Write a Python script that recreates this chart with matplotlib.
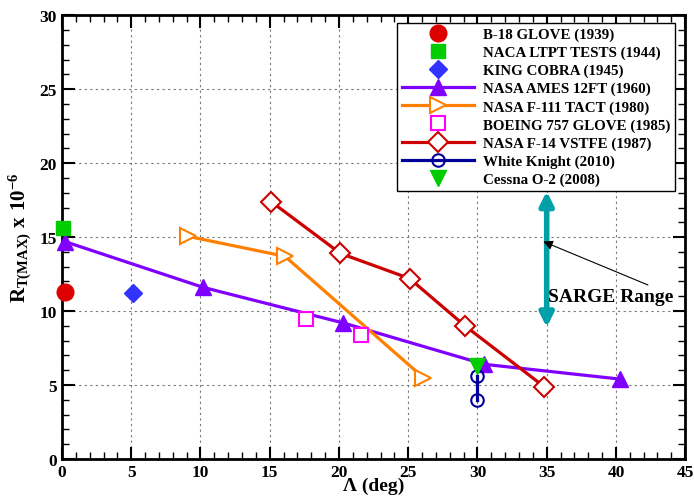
import matplotlib
matplotlib.use("Agg")
import matplotlib.pyplot as plt
from matplotlib.ticker import MultipleLocator

plt.rcParams['font.family'] = ['Liberation Serif', 'DejaVu Serif']
plt.rcParams['font.weight'] = 'bold'
plt.rcParams['mathtext.fontset'] = 'custom'
plt.rcParams['mathtext.rm'] = 'Liberation Serif:bold'
plt.rcParams['mathtext.it'] = 'Liberation Serif:bold'
plt.rcParams['mathtext.bf'] = 'Liberation Serif:bold'
plt.rcParams['mathtext.default'] = 'bf'

# Data
b18_x, b18_y = [0.2], [11.3]
naca_x, naca_y = [0.1], [15.6]
king_x, king_y = [5.1], [11.2]
ames_x = [0.2, 10.2, 20.3, 30.5, 40.3]
ames_y = [14.7, 11.6, 9.2, 6.4, 5.4]
f111_x = [9.1, 16.1, 26.1]
f111_y = [15.05, 13.7, 5.5]
b757_x = [17.6, 21.6]
b757_y = [9.45, 8.4]
f14_x = [15.1, 20.1, 25.1, 29.1, 34.8]
f14_y = [17.4, 13.9, 12.2, 9.0, 4.9]
wk_x = [30.0, 30.0]
wk_y = [5.6, 4.0]
cessna_x, cessna_y = [30.0], [6.3]
sarge_x = 35.0
sarge_lo, sarge_hi = 8.9, 18.1

fig = plt.figure(figsize=(6.94, 5.02), dpi=100)
ax = fig.add_axes([0.0893, 0.0837, 0.898, 0.884])

ms = 11
lw = 2.3
ax.plot(b18_x, b18_y, marker='o', color='#DD0000', ms=12, ls='none', label='B-18 GLOVE (1939)', clip_on=False, zorder=5)
ax.plot(naca_x, naca_y, marker='s', color='#00CC00', ms=10, ls='none', label='NACA LTPT TESTS (1944)', clip_on=False, zorder=5)
ax.plot(king_x, king_y, marker='D', color='#3333FF', ms=9, ls='none', label='KING COBRA (1945)', zorder=5)
ax.plot(ames_x, ames_y, marker='^', ls='-', color='#8000FF', ms=ms, lw=lw, label='NASA AMES 12FT (1960)', clip_on=False, zorder=4)
ax.plot(f111_x, f111_y, marker='>', ls='-', color='#FF8000', ms=ms, lw=lw, mfc='white', mew=1.5, label='NASA F-111 TACT (1980)', zorder=4)
ax.plot(b757_x, b757_y, marker='s', color='#FF00FF', ms=10, mfc='white', mew=1.5, ls='none', label='BOEING 757 GLOVE (1985)', zorder=4)
ax.plot(f14_x, f14_y, marker='D', ls='-', color='#CC0000', ms=10, lw=lw, mfc='white', mew=1.5, label='NASA F-14 VSTFE (1987)', zorder=4)
ax.plot(wk_x, wk_y, marker='o', ls='-', color='#000099', ms=9, lw=lw, mfc='none', mew=1.5, label='White Knight (2010)', zorder=4)
ax.plot(cessna_x, cessna_y, marker='v', color='#00CC00', ms=12, ls='none', label='Cessna O-2 (2008)', zorder=6)

ax.annotate('', xy=(sarge_x, sarge_hi), xytext=(sarge_x, sarge_lo),
            arrowprops=dict(arrowstyle='<|-|>', color='#00A0A8', lw=4, mutation_scale=20, shrinkA=0, shrinkB=0))
ax.annotate('SARGE Range', xy=(34.75, 14.7), xytext=(35.1, 11.0), fontsize=14, fontweight='bold',
            va='center', ha='left',
            arrowprops=dict(arrowstyle='-|>', color='black', lw=0.8, shrinkA=0, shrinkB=0,
                            relpos=(0.85, 1.0)))

ax.set_xlim(0, 45)
ax.set_ylim(0, 30)
ax.xaxis.set_major_locator(MultipleLocator(5))
ax.xaxis.set_minor_locator(MultipleLocator(1))
ax.yaxis.set_major_locator(MultipleLocator(5))
ax.yaxis.set_minor_locator(MultipleLocator(1))
ax.tick_params(which='both', direction='in', top=True, right=True, labelsize=12.5)
ax.tick_params(which='major', length=9, width=1.5)
ax.tick_params(which='minor', length=5, width=1)
for s in ax.spines.values():
    s.set_linewidth(2)
ax.grid(True, which='major', ls=(0, (2, 3)), color='#777777', lw=0.8)
for lab in ax.get_xticklabels() + ax.get_yticklabels():
    lab.set_fontweight('bold')

ax.set_xlabel('Λ (deg)', fontsize=14, fontweight='bold', labelpad=-2)
ax.set_ylabel(r'$\mathbf{R_{T(MAX)}\ x\ 10^{-6}}$', fontsize=15, labelpad=4)

leg = ax.legend(loc='upper right', bbox_to_anchor=(0.983, 0.983), fontsize=10.8, fancybox=False,
                edgecolor='black', framealpha=1, borderpad=0.3, labelspacing=0.3,
                handlelength=4.8, handletextpad=0.6, borderaxespad=0)
leg.get_frame().set_linewidth(1.0)
for t in leg.get_texts():
    t.set_fontweight('bold')

fig.savefig('out.png', dpi=100)
